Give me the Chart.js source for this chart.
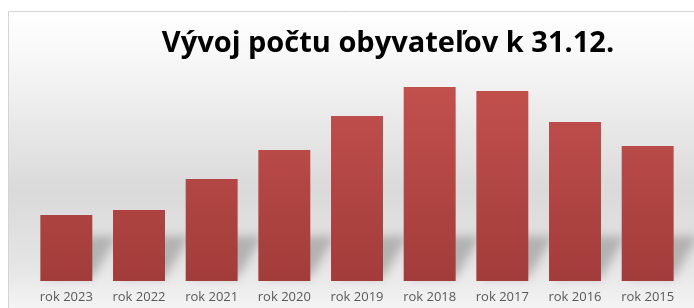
<!DOCTYPE html>
<html>
<head>
<meta charset="utf-8">
<script src="https://cdn.jsdelivr.net/npm/chart.js@4/dist/chart.umd.min.js"></script>
<style>
  html, body { margin: 0; padding: 0; background: #fff; }
  #wrap { width: 694px; height: 308px; }
</style>
</head>
<body>
<div id="wrap"><canvas id="popChart" width="694" height="308"></canvas></div>
<script>
// data (relative bar heights, no value axis shown)
const chartTitle = "Vývoj počtu obyvateľov k 31.12.";
const years = ["rok 2023", "rok 2022", "rok 2021", "rok 2020", "rok 2019", "rok 2018", "rok 2017", "rok 2016", "rok 2015"];
const population = [66, 71, 102, 131, 165, 194, 190, 159, 135];
const axisMax = 200;

// grey panel with soft vertical gradient and a thin frame
const panelPlugin = {
    id: "panel",
    beforeDraw(chart) {
        const ctx = chart.ctx;
        ctx.save();
        ctx.fillStyle = "#ffffff";
        ctx.fillRect(0, 0, chart.width, chart.height);
        const g = ctx.createLinearGradient(0, 11, 0, chart.height);
        g.addColorStop(0, "#ffffff");
        g.addColorStop(0.15, "#f8f8f8");
        g.addColorStop(0.6, "#dadada");
        g.addColorStop(0.85, "#e4e4e4");
        g.addColorStop(1, "#f4f4f4");
        ctx.fillStyle = g;
        ctx.fillRect(8, 11, chart.width - 8, chart.height - 11);
        ctx.strokeStyle = "#d4d4d4";
        ctx.lineWidth = 1;
        ctx.beginPath();
        ctx.moveTo(8.5, chart.height);
        ctx.lineTo(8.5, 11.5);
        ctx.lineTo(chart.width, 11.5);
        ctx.stroke();
        ctx.restore();
    },
    beforeDatasetsDraw(chart) {
        // faint cast shadows behind the bars
        const ctx = chart.ctx;
        const bars = chart.getDatasetMeta(0).data;
        ctx.save();
        ctx.filter = "blur(5px)";
        ctx.fillStyle = "rgba(90,90,90,0.35)";
        bars.forEach(b => {
            const xL = b.x - b.width / 2, xR = b.x + b.width / 2, bot = b.base;
            const h = Math.min(45, (bot - b.y) * 0.8);
            ctx.beginPath();
            ctx.moveTo(xL + 6, bot - 3);
            ctx.lineTo(xR, bot - 3);
            ctx.lineTo(xR + h * 0.55, bot - h);
            ctx.lineTo(xL + 6 + h * 0.55, bot - h);
            ctx.closePath();
            ctx.fill();
        });
        ctx.restore();
    },
    afterDraw(chart) {
        const ctx = chart.ctx;
        ctx.save();
        ctx.font = "bold 29px 'Open Sans'";
        ctx.fillStyle = "#000000";
        ctx.textAlign = "center";
        ctx.textBaseline = "alphabetic";
        ctx.fillText(chartTitle, 388, 52);
        ctx.restore();
    }
};

function barFill(context) {
    const area = context.chart.chartArea;
    if (!area) return "#b5474a";
    const g = context.chart.ctx.createLinearGradient(0, area.top, 0, area.bottom);
    g.addColorStop(0, "#c3514e");
    g.addColorStop(1, "#a23c3a");
    return g;
}

new Chart(document.getElementById("popChart").getContext("2d"), {
    type: "bar",
    data: {
        labels: years,
        datasets: [{
            data: population,
            backgroundColor: barFill,
            borderWidth: 0
        }]
    },
    options: {
        responsive: false,
        animation: false,
        layout: { padding: { left: 30, right: 10, top: 81, bottom: 3 } },
        plugins: {
            legend: { display: false },
            tooltip: { enabled: false },
            title: { display: false }
        },
        datasets: {
            bar: { categoryPercentage: 1, barPercentage: 0.715 }
        },
        scales: {
            x: {
                grid: { display: false, drawTicks: false },
                border: { display: false },
                afterFit(axis) { axis.height = 24; },
                ticks: {
                    color: "#595959",
                    font: { family: "'Open Sans'", size: 13 },
                    padding: 8,
                    maxRotation: 0
                }
            },
            y: {
                display: false,
                min: 0,
                max: axisMax
            }
        }
    },
    plugins: [panelPlugin]
});
</script>
</body>
</html>
